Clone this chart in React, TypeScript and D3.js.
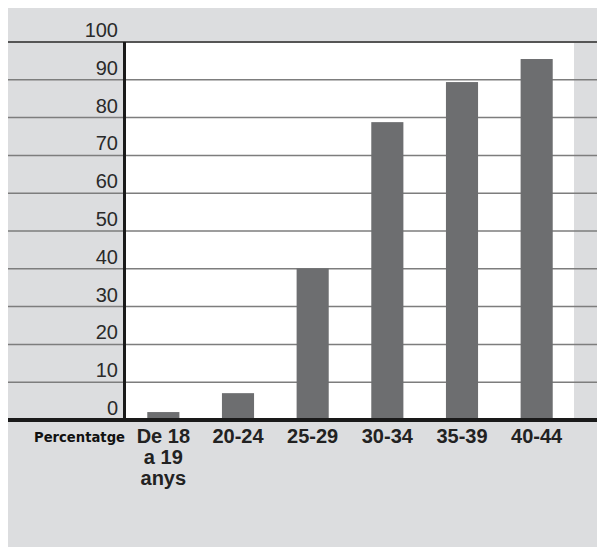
import React from "react";
import * as d3 from "d3";

const categories: string[][] = [["De 18", "a 19", "anys"], ["20-24"], ["25-29"], ["30-34"], ["35-39"], ["40-44"]];
const values: number[] = [2.1, 7.1, 40.1, 78.8, 89.4, 95.5];
const yTicks: number[] = [0, 10, 20, 30, 40, 50, 60, 70, 80, 90, 100];
const rowLabel = "Percentatge";

export default function App() {
  const W = 597;
  const H = 539;
  // svg origin is page (8,8)
  const ox = 8;
  const oy = 8;
  const plotLeft = 126 - ox;
  const plotRight = 574 - ox;
  const y = d3.scaleLinear().domain([0, 100]).range([420 - oy, 42 - oy]);
  const x = d3
    .scaleBand<number>()
    .domain(values.map((_, i) => i))
    .range([plotLeft, plotRight])
    .paddingInner(0.57)
    .paddingOuter(0.285);
  const labelFont = "'Liberation Sans', Arial, sans-serif";

  return (
    <svg width={W} height={H} style={{ display: "block" }}>
      <rect x={0} y={0} width={W} height={H} fill="#dcdddf" />
      <rect x={plotLeft} y={y(100)} width={plotRight - plotLeft} height={y(0) - y(100)} fill="#ffffff" />
      {yTicks.filter((t) => t > 0).map((t) => (
        <line key={"g" + t} x1={0} x2={W} y1={y(t)} y2={y(t)} stroke={t === 100 ? "#555" : "#7d7d7d"} strokeWidth={t === 100 ? 2 : 1.5} />
      ))}
      {values.map((v, i) => (
        <rect key={"b" + i} x={x(i)} y={y(v)} width={x.bandwidth()} height={y(0) - y(v)} fill="#6d6e70" />
      ))}
      <line x1={116.5} x2={116.5} y1={y(100)} y2={y(0)} stroke="#1a1a1a" strokeWidth={3} />
      <line x1={0} x2={W} y1={y(0)} y2={y(0)} stroke="#1a1a1a" strokeWidth={4} />
      {yTicks.map((t) => (
        <text key={"t" + t} x={110} y={y(t) - 5} textAnchor="end" fontFamily={labelFont} fontSize={20} fill="#2a2a2a">
          {t}
        </text>
      ))}
      <text x={117} y={434} textAnchor="end" fontFamily="'DejaVu Sans', sans-serif" fontWeight="bold" fontSize={13.5} fill="#111" textLength={91} lengthAdjust="spacingAndGlyphs">
        {rowLabel}
      </text>
      {categories.map((lines, i) => (
        <text key={"c" + i} textAnchor="middle" fontFamily={labelFont} fontWeight="bold" fontSize={20} fill="#222">
          {lines.map((l, j) => (
            <tspan key={j} x={(x(i) as number) + x.bandwidth() / 2} y={435 + j * 21}>
              {l}
            </tspan>
          ))}
        </text>
      ))}
    </svg>
  );
}
